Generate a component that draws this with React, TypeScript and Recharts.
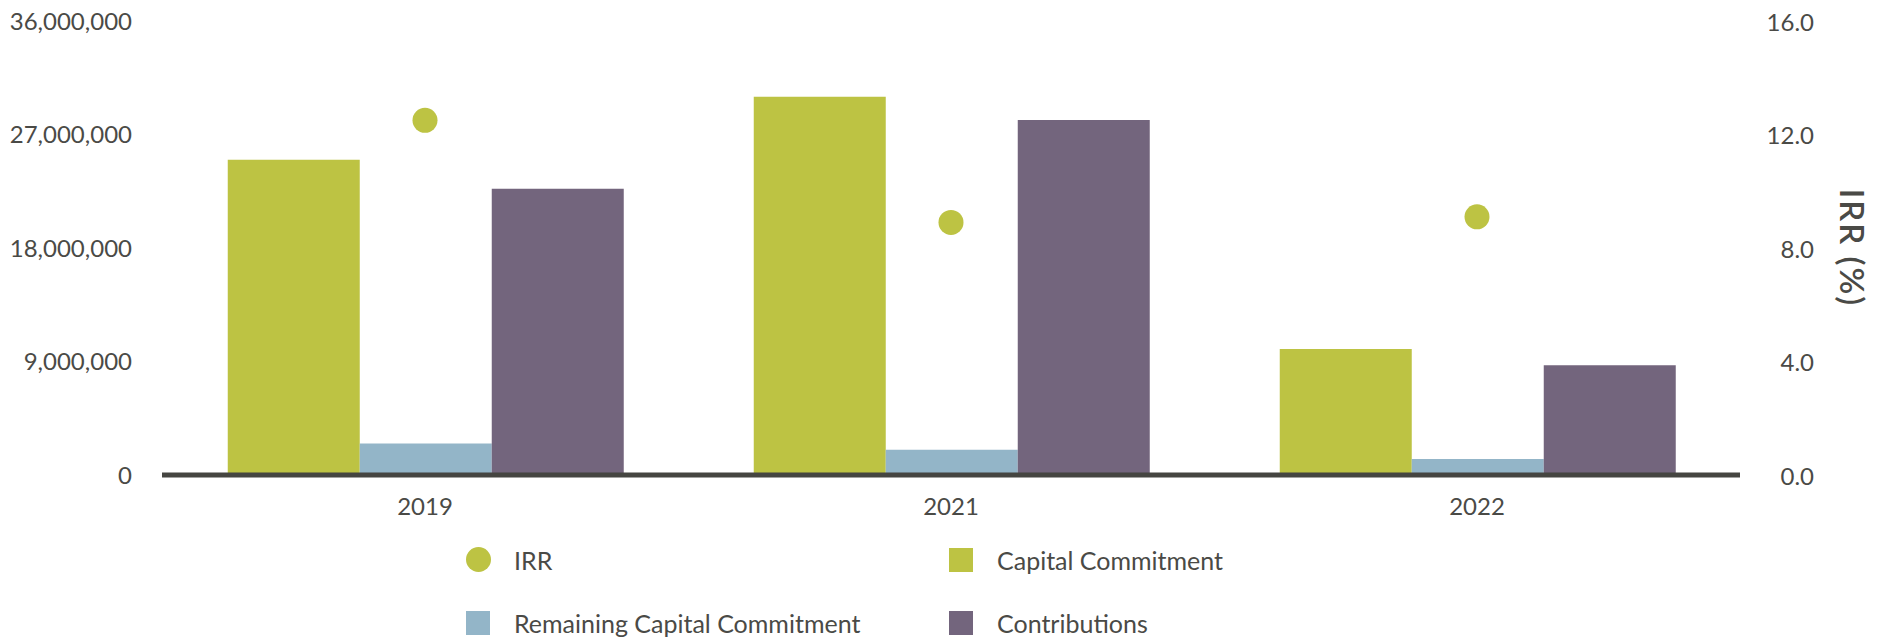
import React from "react";
import {
  Bar, ComposedChart, Legend, Line, XAxis, YAxis,
} from "recharts";

const years = ["2019", "2021", "2022"];
const capitalCommitment = [25000000, 30000000, 10000000];
const remainingCommitment = [2500000, 2000000, 1270000];
const contributions = [22700000, 28150000, 8700000];
const irr = [12.5, 8.9, 9.1];

const leftTicks = [0, 9000000, 18000000, 27000000, 36000000];
const rightTicks = [0, 4, 8, 12, 16];

const GREEN = "#bdc343";
const BLUE = "#93b5c8";
const PURPLE = "#73657d";
const TEXT = "#4a4a46";
const FONT = "Lato, 'Open Sans', sans-serif";

const data = years.map((year, i) => ({
  year,
  capital: capitalCommitment[i],
  remaining: remainingCommitment[i],
  contributions: contributions[i],
  irr: irr[i],
}));

const legendItems = [
  { name: "IRR", color: GREEN, round: true },
  { name: "Capital Commitment", color: GREEN, round: false },
  { name: "Remaining Capital Commitment", color: BLUE, round: false },
  { name: "Contributions", color: PURPLE, round: false },
];

function LegendBox() {
  return (
    <div style={{ position: "relative", height: 115, fontFamily: FONT, fontSize: 25, color: TEXT }}>
      {legendItems.map((item, i) => {
        const left = i % 2 === 0 ? 466 : 949;
        const top = i < 2 ? 34.5 : 98;
        return (
          <div
            key={item.name}
            style={{ position: "absolute", left, top: top - 15, height: 30, display: "flex", alignItems: "center", whiteSpace: "nowrap" }}
          >
            <span
              style={{
                width: item.round ? 25 : 24,
                height: item.round ? 25 : 24,
                borderRadius: item.round ? "50%" : 0,
                background: item.color,
                display: "inline-block",
              }}
            />
            <span style={{ marginLeft: item.round ? 23 : 24 }}>{item.name}</span>
          </div>
        );
      })}
    </div>
  );
}

function RightTick(props: any) {
  const { x, y, payload } = props;
  return (
    <text x={x + 66} y={y} textAnchor="end" dominantBaseline="central" fill={TEXT} fontSize={24} fontFamily={FONT}>
      {Number(payload.value).toFixed(1)}
    </text>
  );
}

function IrrLabel(props: any) {
  const { viewBox } = props;
  const cx = viewBox.x + 113;
  const cy = viewBox.y + viewBox.height / 2;
  return (
    <text
      x={cx}
      y={cy}
      transform={`rotate(90 ${cx} ${cy})`}
      textAnchor="middle"
      dominantBaseline="central"
      fill={TEXT}
      fontSize={33}
      fontWeight={600}
      letterSpacing={2}
      fontFamily={FONT}
    >
      IRR (%)
    </text>
  );
}

export default function App() {
  return (
    <div style={{ width: 1883, height: 640, background: "#fff" }}>
      <style>{"body{margin:0;background:#fff}"}</style>
      <ComposedChart
        width={1883}
        height={640}
        data={data}
        margin={{ top: 21, right: 0, bottom: 0, left: 0 }}
        barCategoryGap="12.5%"
        barGap={0}
      >
        <XAxis
          dataKey="year"
          height={50}
          tickLine={false}
          axisLine={{ stroke: "#454541", strokeWidth: 5 }}
          tickMargin={17}
          tick={{ fill: TEXT, fontSize: 24, fontFamily: FONT }}
        />
        <YAxis
          yAxisId="left"
          width={162}
          domain={[0, 36000000]}
          ticks={leftTicks}
          axisLine={false}
          tickLine={false}
          tickMargin={24}
          tick={{ fill: TEXT, fontSize: 24, fontFamily: FONT }}
          tickFormatter={(v: number) => v.toLocaleString("en-US")}
        />
        <YAxis
          yAxisId="irr"
          orientation="right"
          width={143}
          domain={[0, 16]}
          ticks={rightTicks}
          axisLine={false}
          tickLine={false}
          tick={<RightTick />}
          label={<IrrLabel />}
        />
        <Legend verticalAlign="bottom" content={<LegendBox />} wrapperStyle={{ height: 115 }} />
        <Bar yAxisId="left" dataKey="capital" name="Capital Commitment" fill={GREEN} isAnimationActive={false} />
        <Bar yAxisId="left" dataKey="remaining" name="Remaining Capital Commitment" fill={BLUE} isAnimationActive={false} />
        <Bar yAxisId="left" dataKey="contributions" name="Contributions" fill={PURPLE} isAnimationActive={false} />
        <Line
          yAxisId="irr"
          dataKey="irr"
          name="IRR"
          stroke="none"
          dot={{ r: 12.5, fill: GREEN, stroke: "none" }}
          activeDot={false}
          isAnimationActive={false}
        />
      </ComposedChart>
    </div>
  );
}
